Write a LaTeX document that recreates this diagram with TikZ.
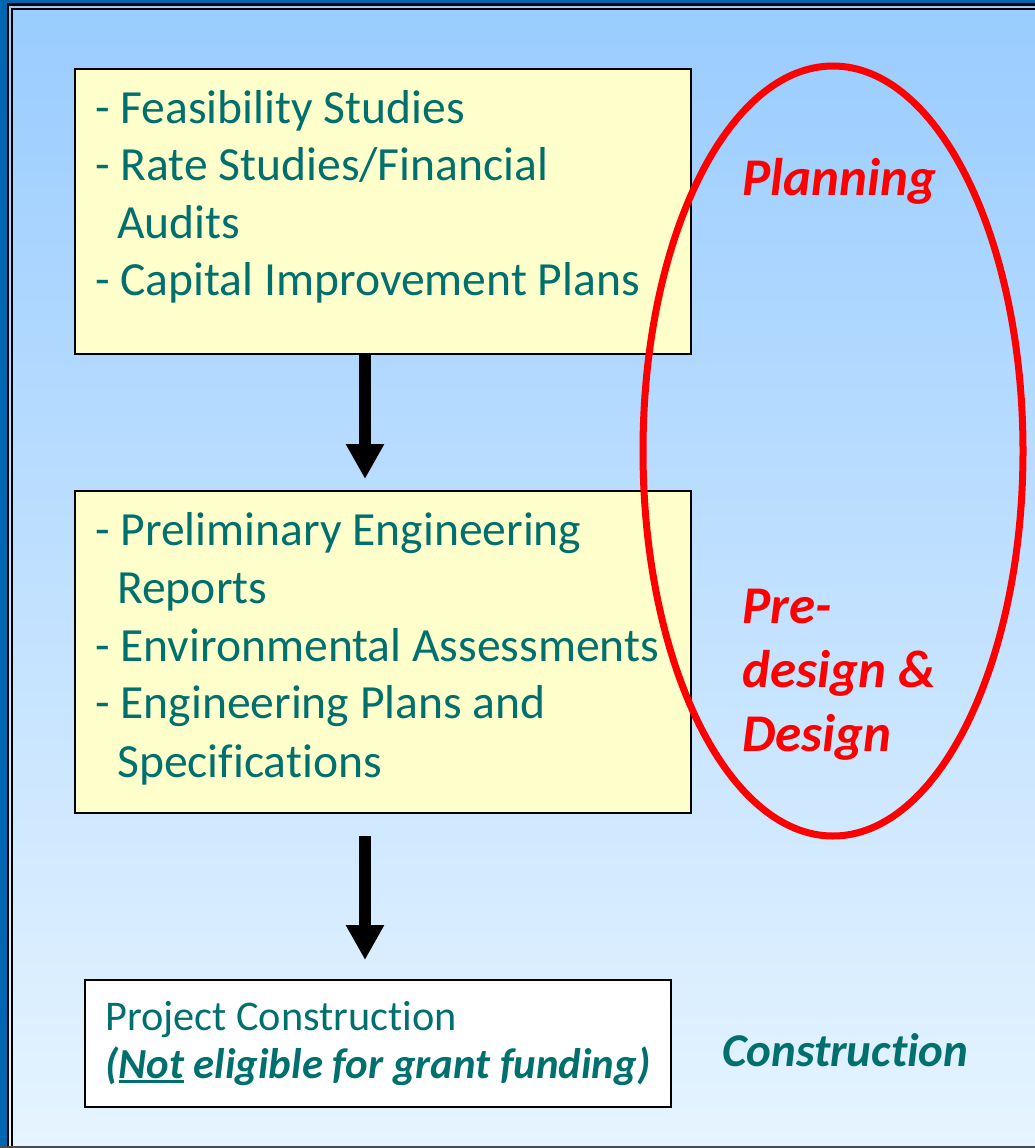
\documentclass[tikz,border=0pt]{standalone}
\usepackage{fontspec}
\setmainfont{Carlito}[Ligatures={NoCommon,NoRequired,NoContextual}]
\usetikzlibrary{arrows.meta,calc}
\definecolor{teal}{RGB}{0,112,110}
\definecolor{slideblue}{RGB}{0,102,178}
\definecolor{bgtop}{RGB}{153,204,255}
\definecolor{bgbot}{RGB}{230,244,255}
\definecolor{boxyellow}{RGB}{255,255,204}
\newcommand\thickul[1]{\setbox0\hbox{#1}\rlap{\rule[-5pt]{\wd0}{3pt}}\box0\relax}
\begin{document}
\begin{tikzpicture}[x=1pt,y=-1pt,
  stepbox/.style={draw=black, line width=2pt, fill=boxyellow, anchor=north west, inner sep=0pt},
  endbox/.style={draw=black, line width=2pt, fill=white, anchor=north west, inner sep=0pt},
  txt/.style={anchor=base west, inner sep=0pt, text=teal, font=\fontsize{47.6}{57}\selectfont},
  smalltxt/.style={anchor=base west, inner sep=0pt, text=teal, font=\fontsize{42.3}{50}\selectfont},
  phase/.style={anchor=base west, inner sep=0pt, text=red, font=\fontsize{53}{63}\selectfont\bfseries\itshape},
  bigarrow/.style={line width=12pt, -{Triangle[width=36pt,length=35pt]}, black}]
\useasboundingbox (0,0) rectangle (1035,1148);
% background and slide border
\shade[top color=bgtop, bottom color=bgbot] (0,0) rectangle (1035,1148);
\fill[slideblue] (0,0) rectangle (7,1148);
\fill[slideblue] (0,0) rectangle (1035,3.3);
\fill[black] (7,3.3) rectangle (9,1146);
\fill[black] (7,3.3) rectangle (1035,5.7);
\fill[black] (11,8) rectangle (13,1146);
\fill[black] (11,8) rectangle (1035,10.3);
\fill[black!70] (0,1146) rectangle (1035,1148);
% boxes
\node[stepbox, minimum width=616pt, minimum height=285pt] (b1) at (74,68) {};
\node[stepbox, minimum width=616pt, minimum height=322pt] (b2) at (74,490) {};
\node[endbox, minimum width=586pt, minimum height=127pt] (b3) at (84,979) {};
% box 1 text
\node[txt] (t11) at (95,123) {- Feasibility Studies};
\node[txt] (t12) at (95,180) {- Rate Studies/Financial};
\node[txt] (t13) at (117,238) {Audits};
\node[txt] (t14) at (95,295) {- Capital Improvement Plans};
% box 2 text
\node[txt] (t21) at (95,545) {- Preliminary Engineering};
\node[txt] (t22) at (117,603) {Reports};
\node[txt] (t23) at (95,661) {- Environmental Assessments};
\node[txt] (t24) at (95,718) {- Engineering Plans and};
\node[txt] (t25) at (117,777) {Specifications};
% box 3 text
\node[smalltxt] (t31) at (105,1030) {Project Construction};
\node[smalltxt, font=\fontsize{42.8}{50}\selectfont\bfseries\itshape] (t32) at (105,1078) {(\thickul{Not} eligible for grant funding)};
% arrows
\coordinate (ax) at (365,0);
\draw[bigarrow] (b1.south -| ax) -- ($(b2.north -| ax)+(0,-11)$);
\draw[bigarrow] ($(b2.south -| ax)+(0,22)$) -- ($(b3.north -| ax)+(0,-19)$);
% ellipse
\draw[red, line width=7pt] (833,451) ellipse [x radius=190pt, y radius=385pt];
% phase labels
\node[phase] (pl) at (742,195) {Planning};
\node[phase] (pd1) at (742,623) {Pre-};
\node[phase] (pd2) at (742,687) {design \&};
\node[phase] (pd3) at (742,751) {Design};
\node[phase, text=teal, font=\fontsize{47}{56}\selectfont\bfseries\itshape] (pc) at (722,1066) {Construction};
\end{tikzpicture}
\end{document}
